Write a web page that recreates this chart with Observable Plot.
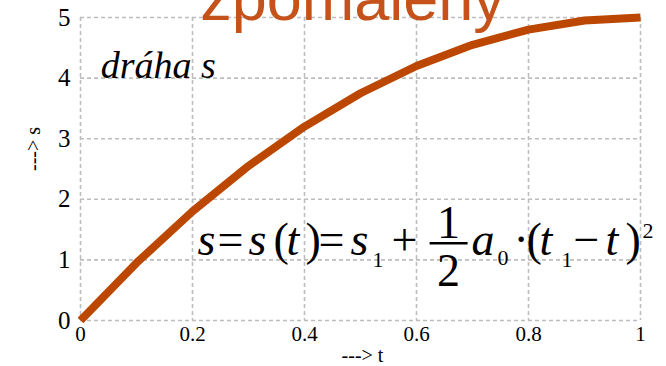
<!DOCTYPE html>
<html>
<head>
<meta charset="utf-8">
<script src="https://cdn.jsdelivr.net/npm/d3@7"></script>
<script src="https://cdn.jsdelivr.net/npm/@observablehq/plot@0.6"></script>
<style>
  html, body { margin: 0; padding: 0; background: #fff; }
  #chart svg { display: block; overflow: visible; }
  #chart text { font-family: "Liberation Serif", serif; }
  #chart text.heading { font-family: "Liberation Sans", sans-serif; }
</style>
</head>
<body>
<div id="chart"></div>
<script>
// Time t and travelled distance s of a decelerating body
const tValues = [0, 0.1, 0.2, 0.3, 0.4, 0.5, 0.6, 0.7, 0.8, 0.9, 1];
const sValues = [0, 0.95, 1.8, 2.55, 3.2, 3.75, 4.2, 4.55, 4.8, 4.95, 5];
const xTicks = [0, 0.2, 0.4, 0.6, 0.8, 1];
const yTicks = [0, 1, 2, 3, 4, 5];
const title = "zpomalený";
const curveLabel = "dráha s";
const xLabel = "---> t";
const yLabel = "---> s";

const data = tValues.map((t, i) => ({t, s: sValues[i]}));

const lineColor = "#bb4700";
const titleColor = "#c4521a";
const serif = "Liberation Serif";
const sans = "Liberation Sans";
const gridStyle = {stroke: "#bdbdbd", strokeOpacity: 1, strokeWidth: 1.6, strokeDasharray: "4,3"};

const chart = Plot.plot({
  width: 666,
  height: 366,
  marginLeft: 80,
  marginRight: 26,
  marginTop: 17,
  marginBottom: 46,
  style: {background: "#fff", overflow: "visible"},
  x: {domain: [0, 1]},
  y: {domain: [0, 5]},
  marks: [
    Plot.gridX(xTicks, gridStyle),
    Plot.gridY(yTicks, gridStyle),
    Plot.axisX(xTicks, {
      tickSize: 0, tickPadding: 6, fontSize: 21, fontFamily: serif,
      fill: "#000", tickFormat: d => String(d), label: null
    }),
    Plot.axisY(yTicks, {
      tickSize: 0, tickPadding: 10, fontSize: 25, fontFamily: serif,
      fill: "#000", tickFormat: d => String(d), label: null
    }),
    Plot.line(data, {
      x: "t", y: "s", stroke: lineColor, strokeWidth: 8,
      strokeLinecap: "butt", strokeLinejoin: "miter"
    }),
    Plot.text([curveLabel], {
      x: 0.036, y: 4, text: d => d, textAnchor: "start", lineAnchor: "bottom",
      fontFamily: serif, fontStyle: "italic", fontSize: 38, fill: "#000"
    }),
    Plot.text([title], {
      frameAnchor: "top", text: d => d, lineAnchor: "bottom", dx: -8, dy: 2,
      fontFamily: sans, fontSize: 63, fill: titleColor
    }),
    Plot.text([xLabel], {
      frameAnchor: "bottom", text: d => d, lineAnchor: "bottom", dx: 2, dy: 41,
      fontFamily: serif, fontSize: 20, fill: "#000"
    }),
    Plot.text([yLabel], {
      frameAnchor: "left", text: d => d, rotate: -90, dx: -47, dy: 2,
      fontFamily: serif, fontSize: 20, fill: "#000"
    })
  ]
});

document.getElementById("chart").appendChild(chart);

const svg = d3.select(chart);

// Formula s = s(t) = s1 + 1/2 a0 · (t1 − t)^2, laid out piece by piece
const fx = chart.scale("x").apply(0.21);
const fy = chart.scale("y").apply(1.07);
const g = svg.append("g")
  .attr("fill", "#000")
  .attr("text-anchor", "start")
  .attr("transform", `translate(${fx},${fy})`);

const pieces = [
  ["s", 0, 0, 46, true],
  ["=", 20, 0, 46, false],
  ["s", 51, 0, 46, true],
  ["(", 76, 0, 46, false],
  ["t", 89, 0, 46, true],
  [")", 108, 0, 46, false],
  ["=", 121, 0, 46, false],
  ["s", 153, 0, 46, true],
  ["1", 175, 12, 22, false],
  ["+", 194, 0, 46, false],
  ["a", 274, 0, 46, true],
  ["0", 300, 10, 22, false],
  ["·", 316, 0, 46, false],
  ["(", 329, 0, 46, false],
  ["t", 342, 0, 46, true],
  ["1", 364, 12, 22, false],
  ["−", 376, 0, 46, false],
  ["t", 408, 0, 46, true],
  [")", 428, 0, 46, false],
  ["2", 445, -17, 22, false]
];
for (const [txt, dx, dy, size, italic] of pieces) {
  g.append("text")
    .attr("x", dx).attr("y", dy)
    .attr("font-size", size)
    .attr("font-style", italic ? "italic" : "normal")
    .text(txt);
}
// the fraction 1/2
g.append("line")
  .attr("x1", 232).attr("x2", 270).attr("y1", -12).attr("y2", -12)
  .attr("stroke", "#000").attr("stroke-width", 2.5);
g.append("text").attr("x", 251).attr("y", -17).attr("font-size", 46)
  .attr("text-anchor", "middle").text("1");
g.append("text").attr("x", 251).attr("y", 31).attr("font-size", 46)
  .attr("text-anchor", "middle").text("2");

// Put the typeface straight on every text element: serif throughout,
// sans for the heading, italic for the curve label
svg.selectAll("text").each(function () {
  const isHeading = this.textContent === title;
  this.setAttribute("font-family", isHeading ? sans : serif);
  if (isHeading) this.classList.add("heading");
  if (this.textContent === curveLabel) this.setAttribute("font-style", "italic");
});
</script>
</body>
</html>
